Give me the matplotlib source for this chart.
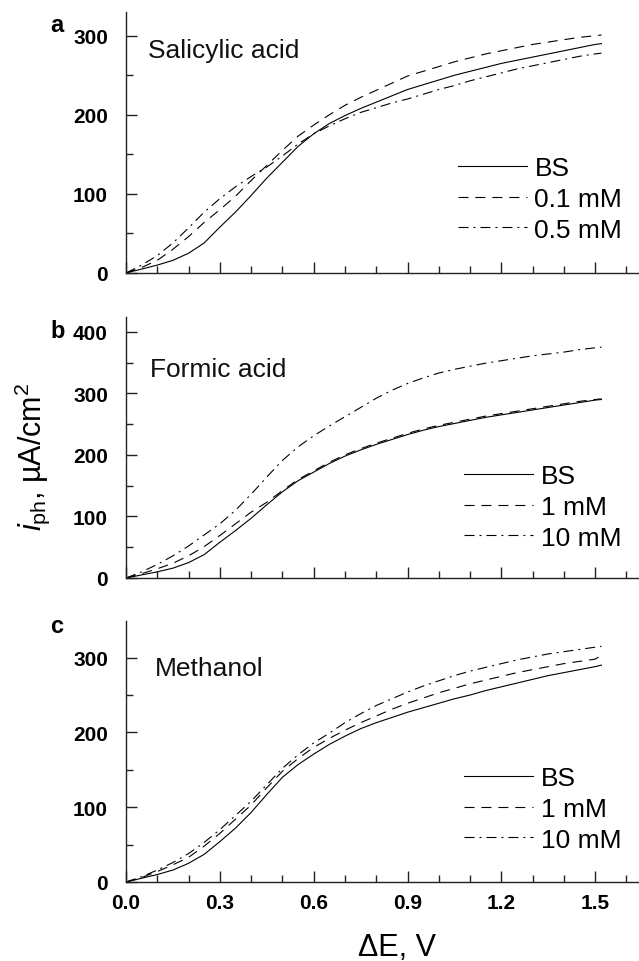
import matplotlib
matplotlib.use("Agg")
import matplotlib.pyplot as plt
from matplotlib.ticker import MultipleLocator, NullFormatter, FormatStrFormatter

plt.rcParams['font.family'] = ['Liberation Sans', 'DejaVu Sans']
plt.rcParams['mathtext.fontset'] = 'custom'
plt.rcParams['mathtext.rm'] = 'Liberation Sans'
plt.rcParams['mathtext.it'] = 'Liberation Sans:italic'
plt.rcParams['lines.scale_dashes'] = False

# ---- data ----
x = [0.0, 0.05, 0.1, 0.15, 0.2, 0.25, 0.3, 0.35, 0.4, 0.45, 0.5, 0.55, 0.6,
     0.65, 0.7, 0.75, 0.8, 0.85, 0.9, 0.95, 1.0, 1.05, 1.1, 1.15, 1.2, 1.25,
     1.3, 1.35, 1.4, 1.45, 1.5, 1.52]

# (a) Salicylic acid
sal_bs = [0, 5, 10, 16, 25, 38, 58, 77, 98, 120, 140, 160, 176, 189, 199, 208,
          216, 224, 232, 238, 244, 250, 255, 260, 265, 269, 273, 277, 281, 285, 289, 290]
sal_01 = [0, 7, 16, 30, 46, 64, 80, 97, 117, 136, 155, 173, 187, 200, 212, 222,
          231, 240, 249, 255, 261, 267, 272, 277, 281, 285, 289, 292, 295, 298, 300, 301]
sal_05 = [0, 10, 22, 38, 57, 77, 94, 109, 122, 134, 148, 163, 176, 186, 195, 203,
          209, 215, 220, 226, 232, 237, 243, 248, 253, 258, 262, 266, 270, 274, 277, 278]

# (b) Formic acid
for_bs = [0, 5, 10, 16, 25, 38, 58, 77, 97, 119, 140, 158, 172, 186, 198, 208,
          217, 225, 233, 240, 246, 251, 256, 261, 265, 269, 273, 277, 281, 285, 289, 290]
for_1 = [0, 7, 15, 24, 36, 51, 69, 88, 107, 123, 142, 160, 174, 188, 200, 210,
         219, 227, 235, 242, 248, 253, 258, 263, 267, 271, 275, 279, 283, 287, 290, 291]
for_10 = [0, 10, 22, 36, 52, 70, 88, 110, 136, 164, 191, 213, 231, 247, 262, 277,
          292, 305, 316, 325, 333, 339, 344, 349, 353, 357, 361, 364, 367, 371, 374, 375]

# (c) Methanol
met_bs = [0, 5, 10, 16, 25, 37, 54, 72, 93, 117, 140, 157, 171, 184, 195, 205,
          213, 220, 227, 233, 239, 245, 250, 256, 261, 266, 271, 276, 280, 284, 288, 290]
met_1 = [0, 6, 14, 23, 33, 48, 65, 84, 103, 126, 148, 165, 180, 192, 203, 213,
         222, 231, 239, 246, 253, 259, 265, 270, 275, 280, 284, 288, 292, 295, 298, 303]
met_10 = [0, 7, 16, 26, 38, 53, 70, 89, 108, 130, 152, 170, 186, 199, 213, 225,
          236, 245, 254, 262, 269, 276, 282, 287, 292, 297, 301, 305, 308, 311, 314, 315]

panels = [
    ("a", "Salicylic acid", 330, [sal_bs, sal_01, sal_05], ["BS", "0.1 mM", "0.5 mM"]),
    ("b", "Formic acid", 424, [for_bs, for_1, for_10], ["BS", "1 mM", "10 mM"]),
    ("c", "Methanol", 349, [met_bs, met_1, met_10], ["BS", "1 mM", "10 mM"]),
]
xticks = [0.0, 0.3, 0.6, 0.9, 1.2, 1.5]

W, H = 639, 962
fig = plt.figure(figsize=(W / 100, H / 100), dpi=100)

# layout in pixels (left, top, bottom)
ax_px = [(126, 13, 274), (126, 318, 579), (126, 622, 883)]
title_pos = [(0.043, 0.828), (0.047, 0.775), (0.057, 0.793)]
leg_pos = [(0.647, 0.2835), (0.659, 0.272), (0.659, 0.280)]
letter_pos = [(57, 25), (58, 332), (57, 627)]

styles = [dict(ls='-'), dict(dashes=(7.2, 5.0)), dict(dashes=(7.2, 3.6, 1.4, 3.6))]

for i, (letter, title, ymax, series, labels) in enumerate(panels):
    l, t, b = ax_px[i]
    ax = fig.add_axes([l / W, 1 - b / H, 1 - l / W, (b - t) / H])
    for s, lab, st in zip(series, labels, styles):
        ax.plot(x, s, color='black', lw=0.8, label=lab, **st)
    ax.set_xlim(0, 1.64)
    ax.set_ylim(0, ymax)
    for sp in ['top', 'right']:
        ax.spines[sp].set_visible(False)
    for sp in ['left', 'bottom']:
        ax.spines[sp].set_linewidth(1.0)
        ax.spines[sp].set_color('#222222')
    ax.xaxis.set_major_locator(MultipleLocator(0.3))
    ax.xaxis.set_minor_locator(MultipleLocator(0.1))
    ax.yaxis.set_major_locator(MultipleLocator(100))
    ax.yaxis.set_minor_locator(MultipleLocator(50))
    ax.tick_params(which='both', direction='in', width=1.0, color='#222222')
    ax.tick_params(which='major', length=8)
    ax.tick_params(which='minor', length=5)
    ax.tick_params(axis='y', which='major', pad=13, labelsize=15)
    ax.tick_params(axis='x', which='major', pad=8, labelsize=15)
    for lbl in ax.get_yticklabels():
        lbl.set_fontweight('bold')
    if i < 2:
        ax.xaxis.set_major_formatter(NullFormatter())
    else:
        ax.set_xticks(xticks)
        ax.xaxis.set_major_formatter(FormatStrFormatter('%.1f'))
        for lbl in ax.get_xticklabels():
            lbl.set_fontweight('bold')
    ax.text(title_pos[i][0], title_pos[i][1], title, transform=ax.transAxes,
            fontsize=19, va='baseline', ha='left', color='#111111')
    ax.legend(loc='center left', bbox_to_anchor=leg_pos[i], frameon=False,
              fontsize=19, handlelength=2.6, handletextpad=0.3,
              labelspacing=0.25, borderpad=0, borderaxespad=0)
    fig.text(letter_pos[i][0] / W, 1 - letter_pos[i][1] / H, letter,
             fontsize=17, fontweight='bold', ha='center', va='center')

fig.text(32 / W, 1 - 457 / H, r'$i_{\rm ph}$, µA/cm$^{2}$', rotation=90,
         fontsize=22, ha='center', va='center')
fig.text(397 / W, 1 - 956 / H, 'ΔE, V', fontsize=22, ha='center', va='baseline')

fig.savefig('out.png', dpi=100)
